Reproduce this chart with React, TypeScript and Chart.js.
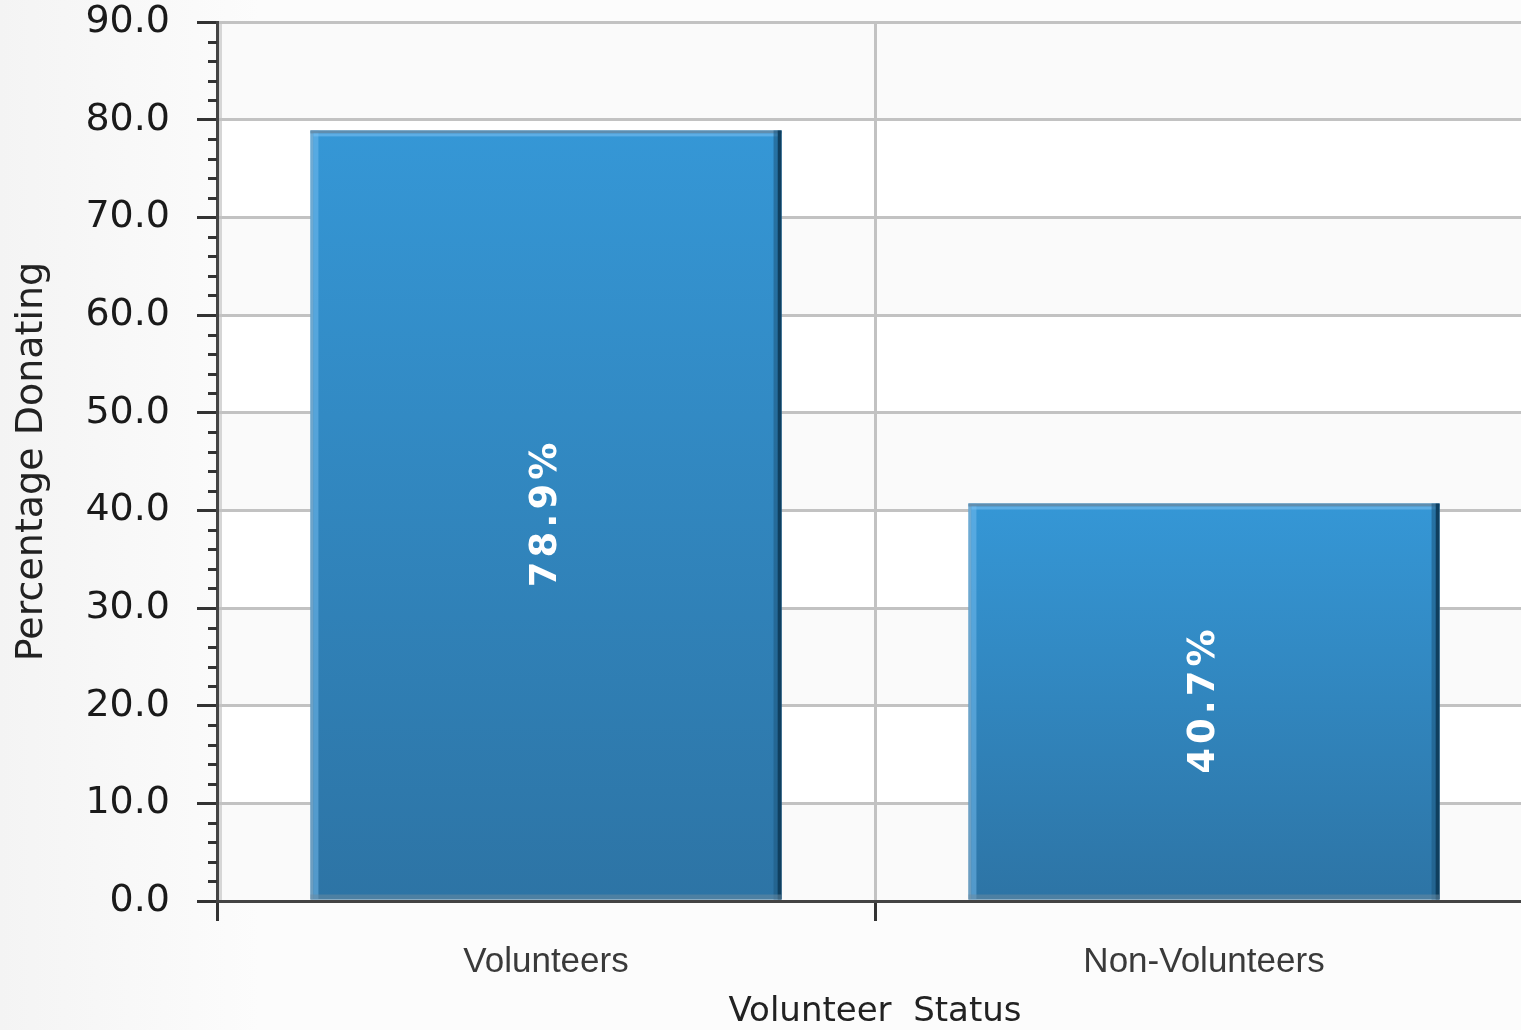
import React, { useEffect, useRef } from "react";
import { Chart, registerables } from "chart.js";

Chart.register(...registerables);

const categories = ["Volunteers", "Non-Volunteers"];
const percentDonating = [78.9, 40.7];
const yMin = 0;
const yMax = 90;
const yStep = 10;
const minorStep = 2;
const xTitle = "Volunteer  Status";
const yTitle = "Percentage Donating";

const bandPlugin = {
  id: "bands",
  beforeDraw(chart: any) {
    const { ctx, chartArea, scales, width, height } = chart;
    ctx.save();
    const bg = ctx.createLinearGradient(0, 0, 260, 0);
    bg.addColorStop(0, "#f4f4f4");
    bg.addColorStop(1, "#fcfcfc");
    ctx.fillStyle = bg;
    ctx.fillRect(0, 0, width, height);
    const y = scales.y;
    for (let v = yMin; v < yMax; v += yStep) {
      const top = y.getPixelForValue(v + yStep);
      const bot = y.getPixelForValue(v);
      const idx = Math.round((v - yMin) / yStep);
      ctx.fillStyle = idx % 2 === 0 ? "#fafafa" : "#ffffff";
      ctx.fillRect(chartArea.left, top, chartArea.right - chartArea.left, bot - top);
    }
    ctx.fillStyle = "#d6d6d6";
    ctx.fillRect(chartArea.left, chartArea.top, 5, chartArea.bottom - chartArea.top);
    ctx.restore();
  },
  afterDraw(chart: any) {
    const { ctx, chartArea, scales } = chart;
    const y = scales.y;
    ctx.save();
    ctx.strokeStyle = "#333333";
    ctx.lineWidth = 3;
    for (let v = yMin; v <= yMax; v += minorStep) {
      if (v % yStep === 0) continue;
      const py = Math.round(y.getPixelForValue(v)) + 0.5;
      ctx.beginPath();
      ctx.moveTo(chartArea.left - 9, py);
      ctx.lineTo(chartArea.left, py);
      ctx.stroke();
    }
    ctx.restore();
  },
};

const barDecorPlugin = {
  id: "barDecor",
  afterDatasetsDraw(chart: any) {
    const { ctx } = chart;
    const meta = chart.getDatasetMeta(0);
    ctx.save();
    meta.data.forEach((bar: any, i: number) => {
      const left = bar.x - bar.width / 2;
      const right = bar.x + bar.width / 2;
      const top = bar.y;
      const bottom = bar.base;
      const h = bottom - top;
      ctx.fillStyle = "rgba(150,185,210,0.6)";
      ctx.fillRect(left, top, 3, h);
      ctx.fillStyle = "rgba(120,190,240,0.5)";
      ctx.fillRect(left + 3, top, 5, h);
      ctx.fillStyle = "rgba(100,140,170,0.9)";
      ctx.fillRect(left, top, right - left, 3);
      ctx.fillStyle = "rgba(120,190,240,0.6)";
      ctx.fillRect(left + 3, top + 3, right - left - 6, 3);
      ctx.fillStyle = "rgba(30,90,130,0.6)";
      ctx.fillRect(right - 8, top, 4, h);
      ctx.fillStyle = "#0f3f5f";
      ctx.fillRect(right - 4, top, 4, h);
      ctx.fillStyle = "rgba(110,140,160,0.5)";
      ctx.fillRect(left, bottom - 5, right - left, 5);
      const label = percentDonating[i].toFixed(1) + "%";
      ctx.save();
      ctx.translate(bar.x, top + h / 2);
      ctx.rotate(-Math.PI / 2);
      ctx.font = "bold 37px 'DejaVu Sans'";
      (ctx as any).letterSpacing = "4px";
      ctx.fillStyle = "#ffffff";
      ctx.textAlign = "center";
      ctx.textBaseline = "middle";
      ctx.fillText(label, 2, 0);
      ctx.restore();
    });
    ctx.restore();
  },
};

export default function App() {
  const ref = useRef<HTMLCanvasElement | null>(null);
  useEffect(() => {
    document.body.style.margin = "0";
    document.body.style.overflow = "hidden";
    const canvas = ref.current!;
    const chart = new Chart(canvas, {
      type: "bar",
      data: {
        labels: categories,
        datasets: [
          {
            data: percentDonating,
            categoryPercentage: 1,
            barPercentage: 0.716,
            borderWidth: 0,
            backgroundColor: (c: any) => {
              const ch = c.chart;
              if (!ch.chartArea || c.raw === undefined) return "#3190cc";
              const ys = ch.scales.y;
              const top = ys.getPixelForValue(c.raw);
              const bot = ys.getPixelForValue(0);
              const g = ch.ctx.createLinearGradient(0, top, 0, bot);
              g.addColorStop(0, "#3597d6");
              g.addColorStop(1, "#2d74a5");
              return g;
            },
          },
        ],
      },
      options: {
        responsive: false,
        animation: false,
        devicePixelRatio: 1,
        layout: { padding: { top: 22, right: 0, bottom: 0, left: 0 } },
        plugins: {
          legend: { display: false },
          tooltip: { enabled: false },
        },
        scales: {
          x: {
            offset: true,
            grid: {
              offset: true,
              color: "#c2c2c2",
              lineWidth: 3,
              tickColor: "#333333",
              tickLength: 20,
              tickWidth: 3,
            },
            border: { color: "#444444", width: 3 },
            ticks: {
              color: "#3a3a3a",
              padding: 20,
              font: { family: "'Liberation Sans'", size: 35 },
            },
            title: {
              display: true,
              text: xTitle,
              color: "#222222",
              font: { family: "'DejaVu Sans'", size: 34, lineHeight: 1 },
              padding: { top: 0, bottom: 1 },
            },
            afterFit: (s: any) => {
              s.height = 129;
              s.paddingLeft = 0;
              s.paddingRight = 0;
            },
          },
          y: {
            min: yMin,
            max: yMax,
            ticks: {
              stepSize: yStep,
              color: "#1a1a1a",
              padding: 27,
              font: { family: "'DejaVu Sans'", size: 38 },
              callback: (v: any) => Number(v).toFixed(1),
            },
            grid: {
              color: "#c2c2c2",
              lineWidth: 3,
              tickColor: "#333333",
              tickLength: 20,
              tickWidth: 3,
            },
            border: { color: "#444444", width: 3 },
            title: {
              display: true,
              text: yTitle,
              color: "#222222",
              font: { family: "'DejaVu Sans'", size: 38, lineHeight: 1.2 },
              padding: { top: 9, bottom: 0 },
            },
            afterFit: (s: any) => {
              s.width = 217;
              s.paddingTop = 0;
              s.paddingBottom = 0;
            },
          },
        },
      },
      plugins: [bandPlugin, barDecorPlugin],
    });
    return () => chart.destroy();
  }, []);
  return (
    <div style={{ position: "absolute", left: 0, top: 0, width: 1521, height: 1030, overflow: "hidden" }}>
      <canvas ref={ref} width={1533} height={1030} />
    </div>
  );
}
